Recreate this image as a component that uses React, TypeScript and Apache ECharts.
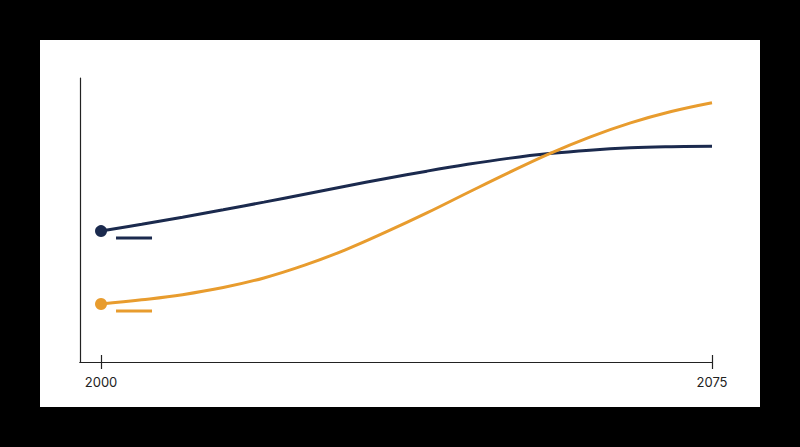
import { useEffect, useRef } from "react";
import * as echarts from "echarts";

const YEARS = [2000, 2005, 2010, 2015, 2020, 2025, 2030, 2035, 2040, 2045, 2050, 2055, 2060, 2065, 2070, 2075];
const NAVY_VALUES = [46.1, 48.5, 51.0, 53.6, 56.3, 59.1, 61.9, 64.6, 67.2, 69.6, 71.7, 73.4, 74.6, 75.4, 75.8, 76.0];
const ORANGE_VALUES = [20.4, 21.9, 23.7, 26.2, 29.6, 34.1, 39.5, 45.8, 52.5, 59.6, 66.6, 73.3, 79.2, 84.2, 88.2, 91.3];
const TICK_YEARS = [2000, 2075];

const NAVY = "#1b2a4e";
const ORANGE = "#e89c2e";
const AXIS = "#222222";

const toPoints = (values: number[]) =>
  YEARS.map((year, i) =>
    i === 0
      ? { value: [year, values[i]], symbol: "circle", symbolSize: 12 }
      : { value: [year, values[i]], symbol: "none" },
  );

const App = () => {
  const chartRef = useRef<HTMLDivElement>(null);

  useEffect(() => {
    if (!chartRef.current) return;
    const chart = echarts.init(chartRef.current, undefined, { renderer: "svg" });

    const xBase = {
      type: "value" as const,
      min: 1997.42,
      max: 2075,
      axisLine: { show: true, lineStyle: { color: AXIS, width: 1.2 } },
      splitLine: { show: false },
    };

    chart.setOption({
      animation: false,
      grid: { left: 40, right: 48, top: 38, bottom: 45 },
      xAxis: [
        {
          ...xBase,
          axisTick: { show: true, length: 7, customValues: TICK_YEARS, lineStyle: { color: AXIS, width: 1.2 } },
          axisLabel: {
            customValues: TICK_YEARS,
            formatter: (v: number) => String(v),
            color: AXIS,
            fontFamily: "Inter",
            fontSize: 13,
            margin: 13,
          },
        },
        {
          ...xBase,
          position: "bottom",
          axisTick: { show: true, inside: true, length: 7, customValues: TICK_YEARS, lineStyle: { color: AXIS, width: 1.2 } },
          axisLabel: { show: false },
        },
      ],
      yAxis: {
        type: "value",
        min: 0,
        max: 100,
        axisLine: { show: true, lineStyle: { color: AXIS, width: 1.2 } },
        axisTick: { show: false },
        axisLabel: { show: false },
        splitLine: { show: false },
      },
      series: [
        {
          type: "line",
          data: toPoints(NAVY_VALUES),
          smooth: 0.4,
          showAllSymbol: true,
          lineStyle: { color: NAVY, width: 3 },
          itemStyle: { color: NAVY },
        },
        {
          type: "line",
          data: toPoints(ORANGE_VALUES),
          smooth: 0.4,
          showAllSymbol: true,
          lineStyle: { color: ORANGE, width: 3 },
          itemStyle: { color: ORANGE },
        },
      ],
    });

    // short dashes under the start dots
    const dashes = [
      { values: NAVY_VALUES, color: NAVY },
      { values: ORANGE_VALUES, color: ORANGE },
    ].map(({ values, color }) => {
      const [px, py] = chart.convertToPixel({ gridIndex: 0 }, [YEARS[0], values[0]]) as number[];
      return {
        type: "line",
        shape: { x1: px + 15, y1: py + 7, x2: px + 51, y2: py + 7 },
        style: { stroke: color, lineWidth: 3 },
      };
    });
    chart.setOption({ graphic: dashes });

    return () => chart.dispose();
  }, []);

  return (
    <div style={{ position: "fixed", left: 0, top: 0, width: 800, height: 447, background: "#000" }}>
      <div style={{ position: "absolute", left: 40, top: 40, width: 720, height: 367, background: "#fff" }}>
        <div ref={chartRef} style={{ width: 720, height: 367 }} />
      </div>
    </div>
  );
};

export default App;
